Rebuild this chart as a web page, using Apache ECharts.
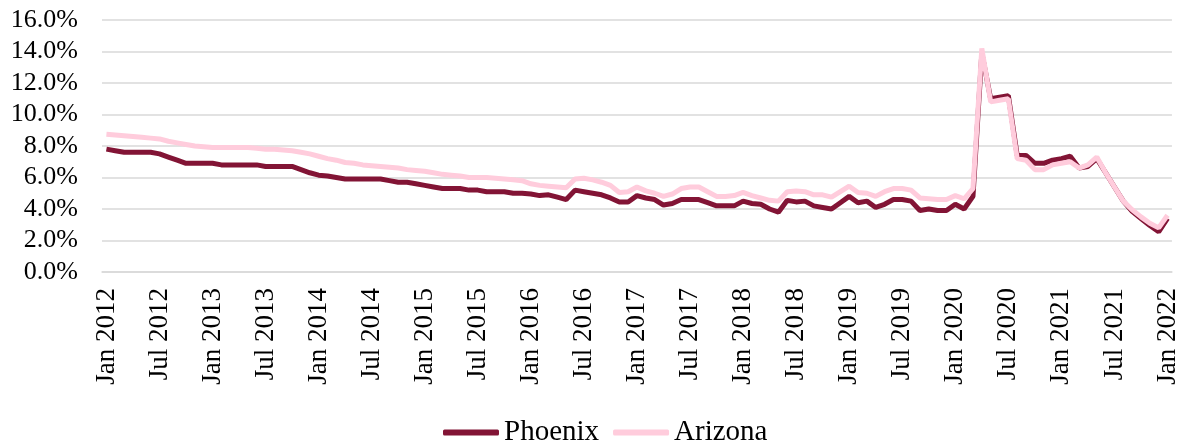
<!DOCTYPE html>
<html>
<head>
<meta charset="utf-8">
<script src="https://cdn.jsdelivr.net/npm/echarts@6/dist/echarts.min.js"></script>
<style>
  html, body { margin: 0; padding: 0; background: #fff; }
  #chart { width: 1181px; height: 442px; }
</style>
</head>
<body>
<div id="chart"></div>
<script>
const monthNames = ["Jan", "Feb", "Mar", "Apr", "May", "Jun", "Jul", "Aug", "Sep", "Oct", "Nov", "Dec"];
const years = [2012, 2013, 2014, 2015, 2016, 2017, 2018, 2019, 2020, 2021, 2022];

// Jan 2012 .. Jan 2022, monthly
const categories = [];
years.forEach((y) => monthNames.forEach((m) => categories.push(`${m} ${y}`)));
categories.length = 121;

const phoenix = [
  7.8, 7.7, 7.6, 7.6, 7.6, 7.6, 7.5, 7.3, 7.1, 6.9, 6.9, 6.9,
  6.9, 6.8, 6.8, 6.8, 6.8, 6.8, 6.7, 6.7, 6.7, 6.7, 6.5, 6.3,
  6.15, 6.1, 6.0, 5.9, 5.9, 5.9, 5.9, 5.9, 5.8, 5.7, 5.7, 5.6,
  5.5, 5.4, 5.3, 5.3, 5.3, 5.2, 5.2, 5.1, 5.1, 5.1, 5.0, 5.0,
  4.95, 4.85, 4.9, 4.75, 4.6, 5.2, 5.1, 5.0, 4.9, 4.7, 4.45, 4.45,
  4.85, 4.7, 4.6, 4.25, 4.35, 4.6, 4.6, 4.6, 4.4, 4.2, 4.2, 4.2,
  4.5, 4.35, 4.3, 4.0, 3.8, 4.55, 4.45, 4.5, 4.2, 4.1, 4.0, 4.4,
  4.8, 4.4, 4.5, 4.1, 4.3, 4.6, 4.6, 4.5, 3.9, 4.0, 3.9, 3.9,
  4.3, 4.0, 4.8, 13.9, 11.0, 11.1, 11.2, 7.4, 7.4, 6.9, 6.9, 7.1,
  7.2, 7.35, 6.6, 6.7, 7.2, 6.3, 5.4, 4.5, 3.85, 3.4, 2.95, 2.55,
  3.4,
];

const arizona = [
  8.75, 8.7, 8.65, 8.6, 8.55, 8.5, 8.45, 8.3, 8.2, 8.1, 8.0, 7.95,
  7.9, 7.9, 7.9, 7.9, 7.9, 7.85, 7.8, 7.8, 7.75, 7.7, 7.6, 7.5,
  7.35, 7.2, 7.1, 6.95, 6.9, 6.8, 6.75, 6.7, 6.65, 6.6, 6.5, 6.45,
  6.4, 6.3, 6.2, 6.15, 6.1, 6.0, 6.0, 6.0, 5.95, 5.9, 5.85, 5.8,
  5.6, 5.5, 5.45, 5.4, 5.35, 5.9, 5.95, 5.85, 5.7, 5.5, 5.05, 5.1,
  5.4, 5.15, 5.0, 4.8, 4.95, 5.3, 5.4, 5.4, 5.1, 4.8, 4.8, 4.85,
  5.05, 4.85, 4.7, 4.55, 4.5, 5.1, 5.15, 5.1, 4.9, 4.9, 4.75, 5.1,
  5.45, 5.05, 5.0, 4.8, 5.1, 5.3, 5.3, 5.2, 4.7, 4.65, 4.6, 4.6,
  4.85, 4.65, 5.3, 14.2, 10.8, 10.9, 11.0, 7.2, 7.1, 6.5, 6.5, 6.8,
  6.9, 7.0, 6.6, 6.8, 7.3, 6.3, 5.4, 4.5, 3.95, 3.5, 3.1, 2.8,
  3.6,
];

const yTicks = { min: 0, max: 16, interval: 2 };

const chart = echarts.init(document.getElementById("chart"));
const font = "'Liberation Serif', 'Times New Roman', serif";

chart.setOption({
  animation: false,
  grid: { left: 102, right: 7, top: 20, bottom: 170, containLabel: false },
  legend: {
    top: 413,
    left: 438,
    itemWidth: 56,
    itemHeight: 6,
    itemGap: 14,
    icon: "roundRect",
    textStyle: { fontFamily: font, fontSize: 29, color: "#000" },
    data: ["Phoenix", "Arizona"],
  },
  xAxis: {
    type: "category",
    data: categories,
    boundaryGap: true,
    axisLine: { show: true, lineStyle: { color: "#d9d9d9", width: 1.5 } },
    axisTick: { show: false },
    axisLabel: {
      interval: 5,
      rotate: 90,
      margin: 16,
      fontFamily: font,
      fontSize: 27,
      color: "#000",
    },
  },
  yAxis: {
    type: "value",
    min: yTicks.min,
    max: yTicks.max,
    interval: yTicks.interval,
    axisLine: { show: false },
    axisTick: { show: false },
    splitLine: { lineStyle: { color: "#d9d9d9", width: 1.5 } },
    axisLabel: {
      margin: 24,
      fontFamily: font,
      fontSize: 26,
      color: "#000",
      formatter: (v) => `${v.toFixed(1)}%`,
    },
  },
  series: [
    {
      name: "Phoenix",
      type: "line",
      data: phoenix,
      showSymbol: false,
      lineStyle: { color: "#821435", width: 5 },
      itemStyle: { color: "#821435" },
    },
    {
      name: "Arizona",
      type: "line",
      data: arizona,
      showSymbol: false,
      lineStyle: { color: "#ffccdc", width: 5 },
      itemStyle: { color: "#ffccdc" },
    },
  ],
});
</script>
</body>
</html>
